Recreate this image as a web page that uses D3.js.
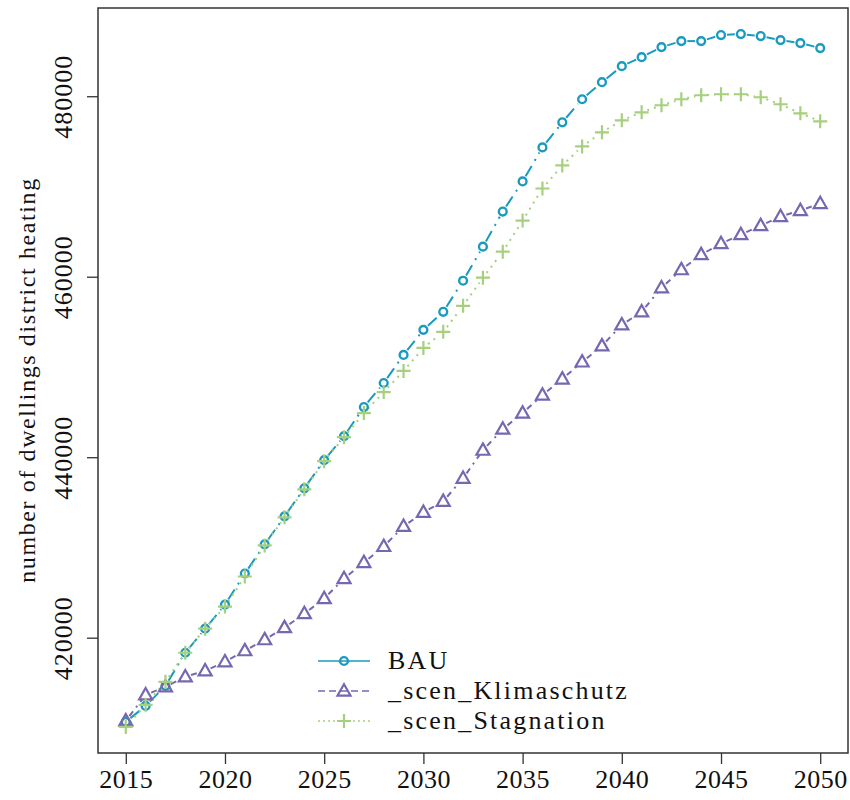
<!DOCTYPE html>
<html>
<head>
<meta charset="utf-8">
<script src="https://cdn.jsdelivr.net/npm/d3@7"></script>
<style>
  body { margin: 0; background: #fff; }
  svg text { font-family: "Liberation Serif", serif; fill: #111; }
</style>
</head>
<body>
<div id="vis"></div>
<script>
const YEARS = d3.range(2015, 2051);

const BAU = [410667, 412444, 414667, 418333, 421000, 423667, 427111, 430333, 433444, 436556,
  439667, 442333, 445556, 448222, 451333, 454111, 456111, 459556, 463333, 467222,
  470556, 474333, 477111, 479667, 481556, 483333, 484333, 485444, 486111, 486111,
  486778, 486889, 486667, 486222, 485889, 485333];

const KLIMASCHUTZ = [410778, 413667, 414556, 415667, 416333, 417333, 418556, 419778, 421111, 422667,
  424333, 426556, 428333, 430111, 432333, 433889, 435111, 437667, 440778, 443111,
  444889, 446889, 448667, 450556, 452333, 454667, 456111, 458778, 460778, 462444,
  463667, 464667, 465667, 466667, 467333, 468111];

const STAGNATION = [410111, 412556, 415111, 418333, 421000, 423444, 426778, 430222, 433333, 436444,
  439556, 442222, 444889, 447222, 449556, 452111, 453889, 456778, 459889, 462778,
  466222, 469778, 472333, 474444, 476000, 477333, 478222, 479000, 479667, 480111,
  480222, 480222, 479889, 479111, 478111, 477222];

const SERIES_NAMES = ["BAU", "_scen_Klimaschutz", "_scen_Stagnation"];
const X_TICKS = [2015, 2020, 2025, 2030, 2035, 2040, 2045, 2050];
const Y_TICKS = [420000, 440000, 460000, 480000];

const WIDTH = 850, HEIGHT = 800;
const BOX = { left: 98, right: 848, top: 8, bottom: 753 };
const FONT = "Liberation Serif, serif";

const svg = d3.select("#vis").append("svg")
  .attr("width", WIDTH).attr("height", HEIGHT);

const X_SCALE = d3.scaleLinear().domain([2013.6, 2051.4]).range([BOX.left, BOX.right]);
const Y_SCALE = d3.scaleLinear().domain([407222, 489778]).range([BOX.bottom, BOX.top]);

const series = [
  { name: SERIES_NAMES[0], values: BAU, color: "#1b9ac0", dash: "12,6,2,6", legendDash: null, shape: "circle" },
  { name: SERIES_NAMES[1], values: KLIMASCHUTZ, color: "#7667b0", dash: "6,5,2,5", legendDash: "7,4", shape: "triangle" },
  { name: SERIES_NAMES[2], values: STAGNATION, color: "#a6cf7e", dash: "2,5", legendDash: "2,3", shape: "plus" }
];

function drawMarker(g, shape, x, y, color) {
  if (shape === "circle") {
    g.append("circle").attr("cx", x).attr("cy", y).attr("r", 3.9)
      .attr("fill", "none").attr("stroke", color).attr("stroke-width", 2.4);
  } else if (shape === "triangle") {
    const s = 6.5;
    g.append("path")
      .attr("d", `M${x},${y - s * 1.05}L${x + s},${y + s * 0.7}L${x - s},${y + s * 0.7}Z`)
      .attr("fill", "none").attr("stroke", color).attr("stroke-width", 2.2);
  } else {
    const s = 7;
    g.append("path")
      .attr("d", `M${x - s},${y}H${x + s}M${x},${y - s}V${y + s}`)
      .attr("fill", "none").attr("stroke", color).attr("stroke-width", 2.2);
  }
}

// lines, drawn segment by segment with gaps at the points
const plot = svg.append("g");
series.forEach((s) => {
  const pts = YEARS.map((yr, i) => [X_SCALE(yr), Y_SCALE(s.values[i])]);
  for (let i = 0; i < pts.length - 1; i++) {
    const [x0, y0] = pts[i], [x1, y1] = pts[i + 1];
    const len = Math.hypot(x1 - x0, y1 - y0);
    const gap = 6;
    if (len <= gap * 2) continue;
    const ux = (x1 - x0) / len, uy = (y1 - y0) / len;
    plot.append("path")
      .attr("d", d3.line()([[x0 + ux * gap, y0 + uy * gap], [x1 - ux * gap, y1 - uy * gap]]))
      .attr("fill", "none").attr("stroke", s.color).attr("stroke-width", 2)
      .attr("stroke-dasharray", s.dash);
  }
});
series.forEach((s) => {
  YEARS.forEach((yr, i) => drawMarker(plot, s.shape, X_SCALE(yr), Y_SCALE(s.values[i]), s.color));
});

// box
svg.append("rect")
  .attr("x", BOX.left).attr("y", BOX.top)
  .attr("width", BOX.right - BOX.left).attr("height", BOX.bottom - BOX.top)
  .attr("fill", "none").attr("stroke", "#333").attr("stroke-width", 1.5);

// x axis
const xAxis = svg.append("g")
  .attr("transform", "translate(0," + BOX.bottom + ")")
  .call(d3.axisBottom(X_SCALE).tickValues(X_TICKS).tickFormat(d3.format("d")).tickSize(11).tickPadding(6));
xAxis.select(".domain").remove();
xAxis.attr("font-family", null).attr("font-size", null);
xAxis.selectAll("line").attr("stroke", "#333").attr("stroke-width", 1.3);
xAxis.selectAll("text").style("font-size", "26px").style("font-family", FONT).style("letter-spacing", "0.5px");

// y axis
const yAxis = svg.append("g")
  .attr("transform", "translate(" + BOX.left + ",0)")
  .call(d3.axisLeft(Y_SCALE).tickValues(Y_TICKS).tickFormat(d3.format("d")).tickSize(11));
yAxis.select(".domain").remove();
yAxis.attr("font-family", null).attr("font-size", null);
yAxis.selectAll("line").attr("stroke", "#333").attr("stroke-width", 1.3);
yAxis.selectAll("text")
  .style("font-size", "26px").style("font-family", FONT).style("letter-spacing", "1px")
  .attr("x", null).attr("dy", null).attr("y", 0)
  .attr("text-anchor", "middle")
  .attr("transform", "translate(-26,0) rotate(-90)");

// y title
svg.append("text")
  .attr("transform", "translate(35," + 380 + ") rotate(-90)")
  .attr("text-anchor", "middle")
  .style("font-family", FONT)
  .style("font-size", "24px")
  .style("letter-spacing", "1.6px")
  .text("number of dwellings district heating");

// legend
const legend = svg.append("g");
series.forEach((s, i) => {
  const y = 661 + i * 30;
  legend.append("line")
    .attr("x1", 318).attr("x2", 370).attr("y1", y).attr("y2", y)
    .attr("stroke", s.color).attr("stroke-width", 1.6)
    .attr("stroke-dasharray", s.legendDash);
  drawMarker(legend, s.shape, 344, y, s.color);
  legend.append("text")
    .attr("x", 388).attr("y", y + 8)
    .style("font-family", FONT)
    .style("font-size", "26px")
    .style("letter-spacing", "2.2px")
    .text(s.name);
});
</script>
</body>
</html>
